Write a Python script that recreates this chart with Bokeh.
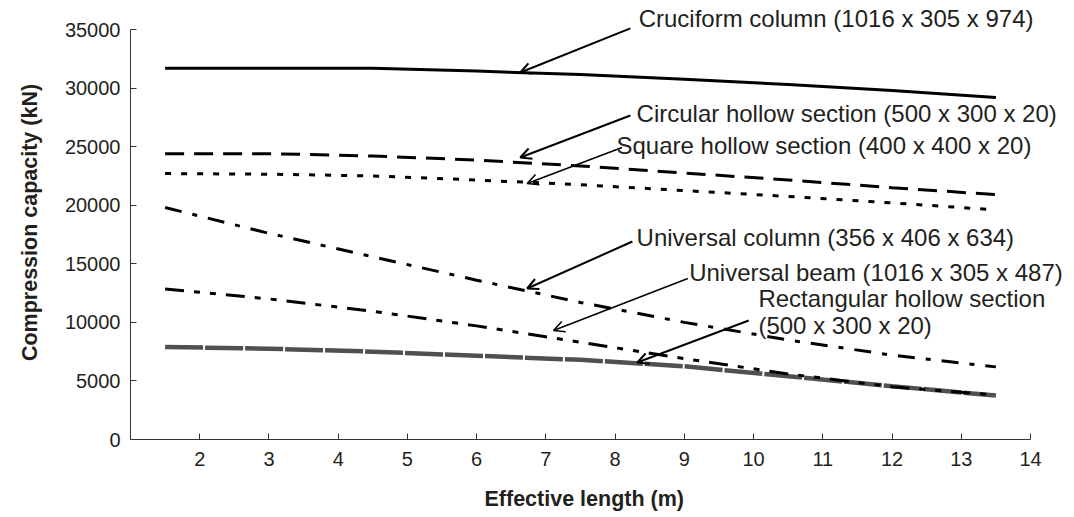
from bokeh.plotting import figure
from bokeh.models import Arrow, OpenHead, Label, FixedTicker, Range1d, NumeralTickFormatter, Title
from bokeh.embed import file_html
from bokeh.resources import INLINE

# ---- data ----
length_m = [1.5, 3, 4.5, 6, 7.5, 9, 10.5, 12, 13.5]
cruciform = [31700, 31700, 31700, 31450, 31150, 30750, 30300, 29800, 29200]
circular_hollow = [24400, 24400, 24200, 23850, 23350, 22750, 22150, 21500, 20900]
square_hollow = [22700, 22650, 22500, 22150, 21750, 21250, 20750, 20200, 19600]
universal_column = [19800, 17600, 15600, 13600, 11700, 10000, 8500, 7200, 6200]
universal_beam = [12850, 12000, 10950, 9700, 8300, 6900, 5600, 4500, 3800]
rect_hollow = [7900, 7750, 7500, 7150, 6800, 6250, 5400, 4550, 3750]

x_ticks = list(range(2, 15))
y_ticks = list(range(0, 35001, 5000))
x_axis_min, x_axis_max = 1, 14
y_axis_max = 35000

# annotation texts and anchors (data coords)
ann_texts = ["Cruciform column (1016 x 305 x 974)",
             "Circular hollow section (500 x 300 x 20)",
             "Square hollow section (400 x 400 x 20)",
             "Universal column (356 x 406 x 634)",
             "Universal beam (1016 x 305 x 487)",
             "Rectangular hollow section",
             "(500 x 300 x 20)"]
ann_x = [8.34, 8.31, 8.02, 8.31, 9.07, 10.07, 10.07]
ann_y = [35940, 27830, 25100, 17245, 14257, 12037, 9732]

arrow_x_start = [8.22, 8.22, 8.10, 8.25, 9.05, 9.93]
arrow_y_start = [35100, 27660, 24930, 16900, 13740, 10160]
arrow_x_end = [6.63, 6.63, 6.73, 6.73, 7.11, 8.32]
arrow_y_end = [31330, 24070, 21850, 12890, 9300, 6570]
arrow_widths = [2, 2, 1.5, 2, 1.5, 2]

FONT = "Liberation Sans"
TEXT_COLOR = "#231f20"

# the frame extends a little beyond the axes so annotations are not clipped;
# the axis lines themselves are bounded to the reference extents
FRAME_W, FRAME_H = 940, 434
x_right = x_axis_min + (x_axis_max - x_axis_min) * FRAME_W / 900.0
y_top = y_axis_max * FRAME_H / 410.0

p = figure(frame_width=FRAME_W, frame_height=FRAME_H,
           x_range=Range1d(x_axis_min, x_right), y_range=Range1d(0, y_top),
           output_backend="svg", toolbar_location=None,
           min_border_left=130, min_border_right=4,
           min_border_top=5, min_border_bottom=78)

p.grid.visible = False
p.outline_line_color = None
p.background_fill_color = "white"
p.border_fill_color = "white"

# series
p.line(length_m, rect_hollow, line_color="#505050", line_width=4.5, line_dash="38 2")
p.line(length_m, cruciform, line_color="black", line_width=3)
p.line(length_m, circular_hollow, line_color="black", line_width=3, line_dash="19 10")
p.line(length_m, square_hollow, line_color="black", line_width=3, line_dash="6 10")
p.line(length_m, universal_column, line_color="black", line_width=3, line_dash="17 11 5 11")
p.line(length_m, universal_beam, line_color="black", line_width=3, line_dash="19 10 6 10 6 10")

# axes
p.xaxis.ticker = FixedTicker(ticks=x_ticks)
p.yaxis.ticker = FixedTicker(ticks=y_ticks)
p.yaxis.formatter = NumeralTickFormatter(format="0")
p.yaxis.bounds = (0, y_axis_max)
p.xaxis.bounds = (x_axis_min, x_axis_max)
for ax in (p.xaxis, p.yaxis):
    ax.major_tick_in = 6
    ax.major_tick_out = 0
    ax.minor_tick_line_color = None
    ax.axis_line_color = "#333333"
    ax.major_tick_line_color = "#333333"
    ax.major_label_text_font = FONT
    ax.major_label_text_font_size = "20px"
    ax.major_label_text_color = TEXT_COLOR
    ax.axis_label_text_font = FONT
    ax.axis_label_text_font_size = "21.5px"
    ax.axis_label_text_font_style = "bold"
    ax.axis_label_text_color = TEXT_COLOR
p.yaxis.axis_label = "Compression capacity (kN)"
p.xaxis.major_label_standoff = 12
p.yaxis.major_label_standoff = 10
p.yaxis.axis_label_standoff = 20

# x-axis title, placed under the bounded axis (not the wider frame)
p.add_layout(Title(text="Effective length (m)", align="left", offset=354,
                   text_font=FONT, text_font_size="21.5px", text_font_style="bold",
                   text_color=TEXT_COLOR, standoff=32), "below")

# arrows
for xs, ys, xe, ye, w in zip(arrow_x_start, arrow_y_start, arrow_x_end, arrow_y_end, arrow_widths):
    p.add_layout(Arrow(end=OpenHead(size=11, line_width=w, line_color="black"),
                       x_start=xs, y_start=ys, x_end=xe, y_end=ye,
                       line_width=w, line_color="black"))

# labels
for t, xx, yy in zip(ann_texts, ann_x, ann_y):
    p.add_layout(Label(x=xx, y=yy, text=t, text_font=FONT, text_font_size="24px",
                       text_baseline="middle", text_align="left", text_color=TEXT_COLOR))

open("out.html", "w").write(file_html(p, INLINE))
